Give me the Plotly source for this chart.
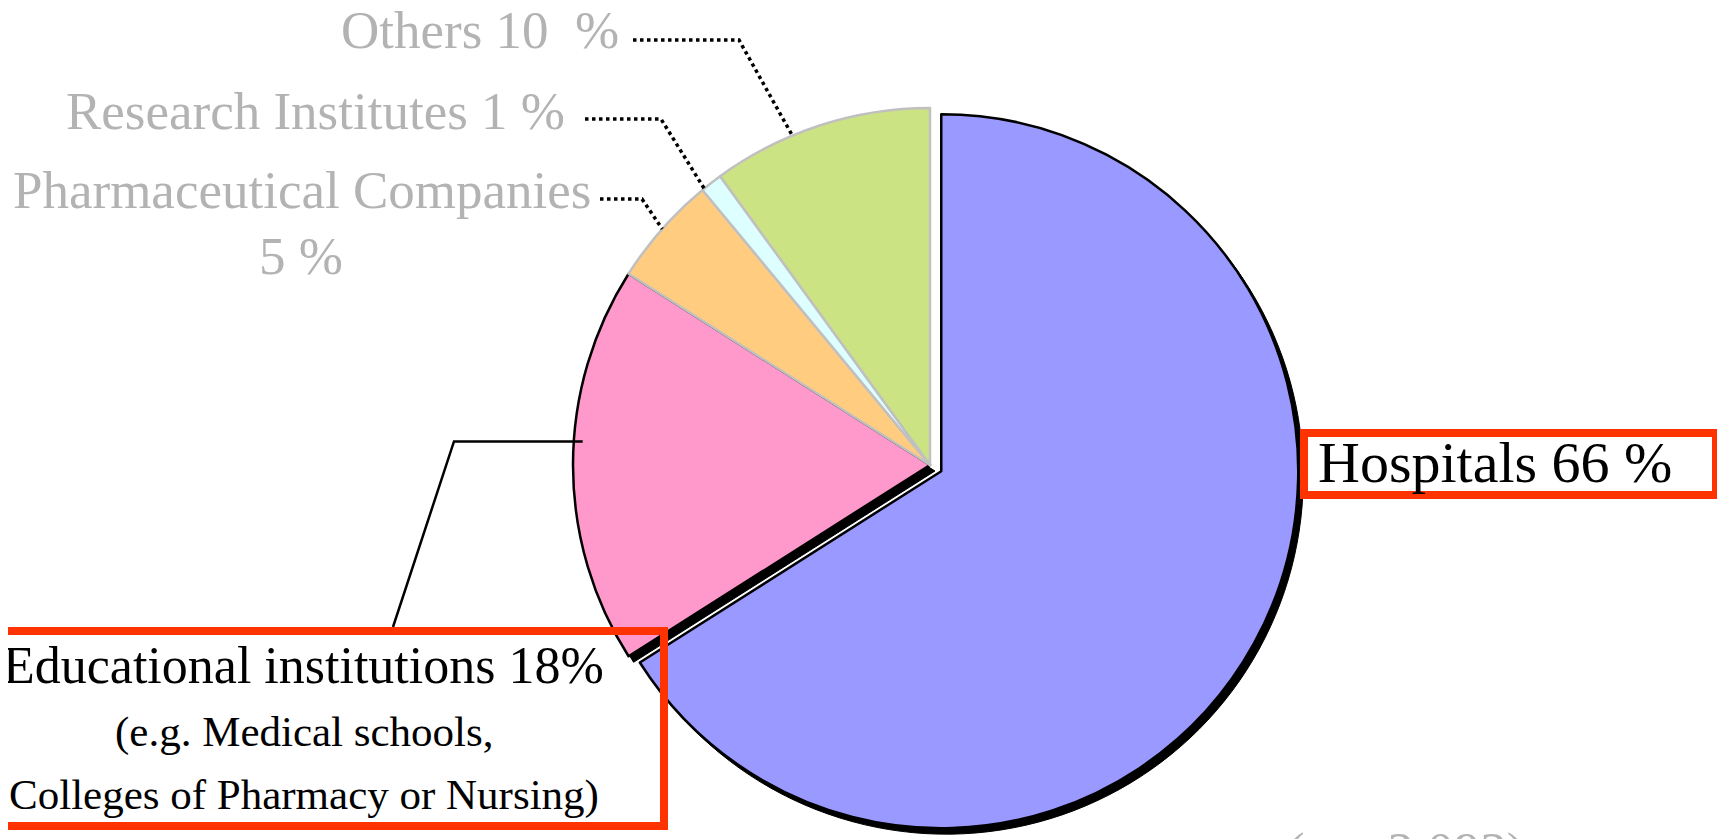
import math
import plotly.graph_objects as go

# ---------------- data ----------------
labels = ["Hospitals", "Educational institutions", "Pharmaceutical Companies",
          "Research Institutes", "Others"]
values = [66, 18, 5, 1, 10]
colors = ["#9999FF", "#FF99CC", "#FFCC80", "#DDFFFF", "#CCE384"]
outline = ["#000000", "#000000", "#C0C0C0", "#C0C0C0", "#C0C0C0"]
pulls = [0.036, 0, 0, 0, 0]
sample_note = "(n = 2,093)"

# ---------------- layout geometry (page pixels) ----------------
W, H = 1725, 839
OFF = 8  # default page body margin
CX, CY, R = 930, 465, 357
half = R * (1 + max(pulls))


def px(x):
    return (x - OFF) / W


def py(y):
    return 1 - (y - OFF) / H


dom_x = [px(CX - half), px(CX + half)]
dom_y = [py(CY + half), py(CY - half)]

total = sum(values)
cum = [sum(values[:i]) for i in range(len(values))]


def angle_at(i, frac):
    return 360.0 * (cum[i] + frac * values[i]) / total


def pt(angle, rad, cx=CX, cy=CY):
    a = math.radians(angle)
    return cx + rad * math.sin(a), cy - rad * math.cos(a)


def path_str(points, close=False):
    s = "M " + " L ".join(f"{px(x):.5f},{py(y):.5f}" for x, y in points)
    return s + (" Z" if close else "")


def sector_points(i, dx, dy):
    mid = angle_at(i, 0.5)
    ox, oy = pt(mid, pulls[i] * R)
    cx, cy = ox + dx, oy + dy
    a0, a1 = angle_at(i, 0), angle_at(i, 1)
    n = max(8, int((a1 - a0) / 2))
    pts = [(cx, cy)]
    for k in range(n + 1):
        pts.append(pt(a0 + (a1 - a0) * k / n, R, cx, cy))
    return pts


fig = go.Figure(go.Pie(
    labels=labels, values=values, sort=False, direction="clockwise", rotation=0,
    pull=pulls, textinfo="none", hoverinfo="label+percent", showlegend=False,
    marker=dict(colors=colors, line=dict(color=outline, width=2.5)),
    domain=dict(x=dom_x, y=dom_y),
))

shapes = []
# drop shadows for the two black-outlined slices
for i in (0, 1):
    shapes.append(dict(type="path", xref="paper", yref="paper", layer="below",
                       path=path_str(sector_points(i, 5, 6), close=True),
                       fillcolor="#000000", line=dict(color="#000000", width=1)))

# dotted leader lines (label end -> elbow -> slice)
leaders = [
    (4, 0.37, (633, 40), (739, 40)),
    (3, 0.10, (585, 119), (661, 119)),
    (2, 0.50, (600, 199), (642, 199)),
]
for i, frac, start, elbow in leaders:
    end = pt(angle_at(i, frac), R)
    shapes.append(dict(type="path", xref="paper", yref="paper", layer="above",
                       path=path_str([start, elbow, end]),
                       line=dict(color="#000000", width=3.5, dash="dot")))

# solid leader for educational institutions
e_end = pt(angle_at(1, 0.56), R * 0.975)
shapes.append(dict(type="path", xref="paper", yref="paper", layer="above",
                   path=path_str([e_end, (454, e_end[1]), (393, 627)]),
                   line=dict(color="#000000", width=2.5)))

# red boxes
RED = "#FF3300"
shapes.append(dict(type="rect", xref="paper", yref="paper", layer="above",
                   x0=px(1304), x1=px(1716), y0=py(433), y1=py(495),
                   line=dict(color=RED, width=8), fillcolor="rgba(0,0,0,0)"))
shapes.append(dict(type="rect", xref="paper", yref="paper", layer="above",
                   x0=px(-20), x1=px(664), y0=py(631), y1=py(826),
                   line=dict(color=RED, width=8), fillcolor="rgba(0,0,0,0)"))

GRAY = "#B3B3B3"
SERIF = "Liberation Serif, Times New Roman, serif"


def ann(text, x, y, size, color, xanchor="center"):
    return dict(text=text, x=px(x), y=py(y), xref="paper", yref="paper",
                xanchor=xanchor, yanchor="middle", showarrow=False,
                font=dict(family=SERIF, size=size, color=color))


annotations = [
    ann(f"{labels[4]} {values[4]}\u00a0 %", 621, 30, 53, GRAY, "right"),
    ann(f"{labels[3]} {values[3]} %", 567, 111, 53, GRAY, "right"),
    ann(f"{labels[2]}", 593, 190, 53, GRAY, "right"),
    ann(f"{values[2]} %", 301, 256, 53, GRAY),
    ann(f"{labels[0]} {values[0]} %", 1495, 462, 58, "#000000"),
    ann(f"{labels[1]} {values[1]}%", 303, 665, 52, "#000000"),
    ann("(e.g. Medical schools,", 304, 732, 43, "#000000"),
    ann("Colleges of Pharmacy or Nursing)", 304, 795, 43, "#000000"),
    ann(sample_note, 1405, 851, 53, GRAY),
]

fig.update_layout(
    width=W, height=H, margin=dict(l=0, r=0, t=0, b=0),
    paper_bgcolor="#FFFFFF", plot_bgcolor="#FFFFFF",
    shapes=shapes, annotations=annotations,
)

fig.write_html("out.html")
